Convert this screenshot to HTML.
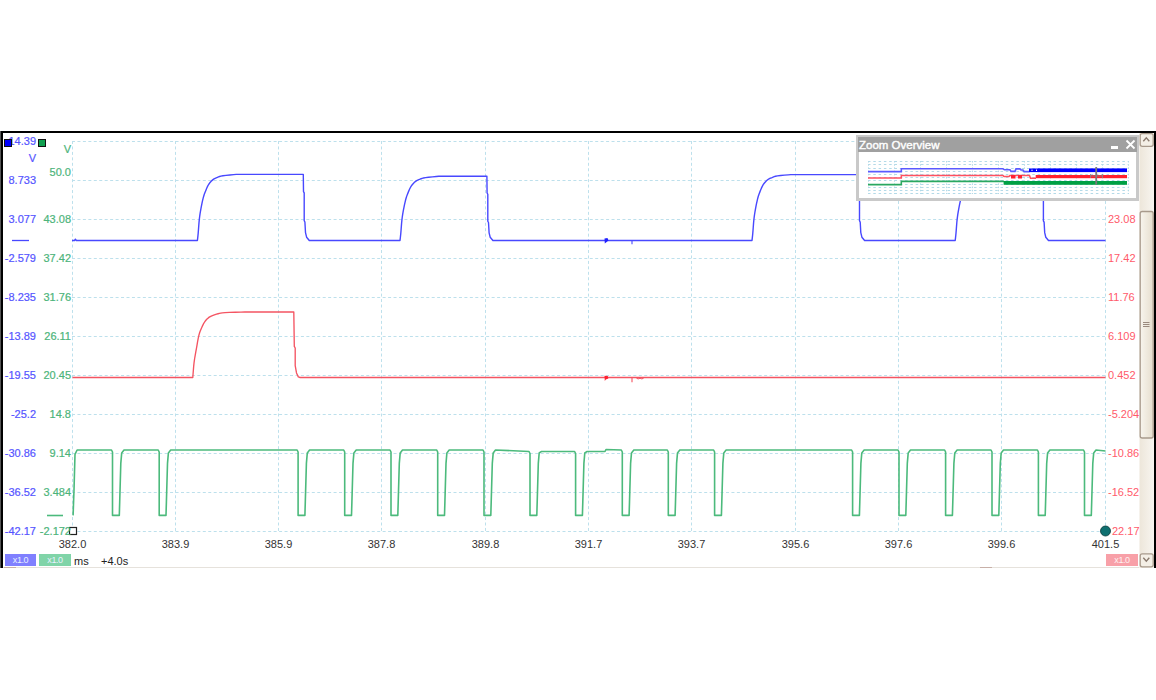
<!DOCTYPE html>
<html><head><meta charset="utf-8"><style>
html,body{margin:0;padding:0;background:#fff;}
body{width:1156px;height:700px;position:relative;overflow:hidden;font-family:"Liberation Sans",sans-serif;}
.a{position:absolute;}
svg{position:absolute;left:0;top:0;}
.lb{position:absolute;font-size:11px;line-height:14px;white-space:nowrap;-webkit-text-stroke:0.2px currentColor;}
.bl{right:1120px;color:#5555ff;}
.gl{right:1085px;color:#4cb47a;}
.rl{left:1108px;color:#ff5a6a;-webkit-text-stroke:0;}
.xl{position:absolute;top:537px;width:60px;text-align:center;font-size:11px;line-height:14px;color:#333;}
.badge{position:absolute;top:554px;height:12px;font-size:9px;line-height:12px;letter-spacing:-0.4px;color:#e8f0ff;text-align:center;}
</style></head><body>
<svg width="1156" height="700" viewBox="0 0 1156 700">
<g stroke="#bde0ec" stroke-width="1" stroke-dasharray="3 2.45" fill="none">
<line x1="72.5" y1="141" x2="72.5" y2="532" />
<line x1="175.5" y1="141" x2="175.5" y2="532" />
<line x1="278.5" y1="141" x2="278.5" y2="532" />
<line x1="381.5" y1="141" x2="381.5" y2="532" />
<line x1="485.5" y1="141" x2="485.5" y2="532" />
<line x1="588.5" y1="141" x2="588.5" y2="532" />
<line x1="691.5" y1="141" x2="691.5" y2="532" />
<line x1="795.5" y1="141" x2="795.5" y2="532" />
<line x1="898.5" y1="141" x2="898.5" y2="532" />
<line x1="1001.5" y1="141" x2="1001.5" y2="532" />
<line x1="1105.5" y1="141" x2="1105.5" y2="532" />
<line x1="72" y1="141.5" x2="1106" y2="141.5" />
<line x1="72" y1="180.5" x2="1106" y2="180.5" />
<line x1="72" y1="219.5" x2="1106" y2="219.5" />
<line x1="72" y1="258.5" x2="1106" y2="258.5" />
<line x1="72" y1="297.5" x2="1106" y2="297.5" />
<line x1="72" y1="336.5" x2="1106" y2="336.5" />
<line x1="72" y1="375.5" x2="1106" y2="375.5" />
<line x1="72" y1="414.5" x2="1106" y2="414.5" />
<line x1="72" y1="453.5" x2="1106" y2="453.5" />
<line x1="72" y1="492.5" x2="1106" y2="492.5" />
<line x1="72" y1="531.5" x2="1106" y2="531.5" />
</g>
<path d="M73.1 515.4 L74 490 L75 454.3 L77.1 450 L111.5 450 L112.5 452 L112.5 515.4 L119.3 515.4 L119.7 502 L120.8 463.4 L121.7 452.9 L124 450 L158.2 450 L159.2 452 L159.2 515.4 L166 515.4 L166.4 502 L167.5 463.4 L168.4 452.9 L170.7 450 L297.1 450 L298.1 452 L298.1 515.4 L304.9 515.4 L305.3 502 L306.4 463.4 L307.3 452.9 L309.6 450 L343.7 450 L344.7 452 L344.7 515.4 L351.5 515.4 L351.9 502 L353 463.4 L353.9 452.9 L356.2 450 L390 450 L391 452 L391 515.4 L397.8 515.4 L398.2 502 L399.3 463.4 L400.2 452.9 L402.5 450 L436.7 450 L437.7 452 L437.7 515.4 L444.5 515.4 L444.9 502 L446 463.4 L446.9 452.9 L449.2 450 L483 450 L484 452 L484 515.4 L490.8 515.4 L491.2 502 L492.3 463.4 L493.2 452.9 L495.5 450 L529 451.5 L530 453.5 L530 515.4 L536.8 515.4 L537.2 502 L538.3 463.4 L539.2 452.9 L541.5 451.5 L574.6 451.5 L575.6 453.5 L575.6 515.4 L582.4 515.4 L582.8 502 L583.9 463.4 L584.8 452.9 L587.1 451.5 L605 451.5 L606 449.5 L621.3 450 L622.3 452 L622.3 515.4 L629.1 515.4 L629.5 502 L630.6 463.4 L631.5 452.9 L633.8 450 L667.3 450 L668.3 452 L668.3 515.4 L675.1 515.4 L675.5 502 L676.6 463.4 L677.5 452.9 L679.8 450 L713.6 450 L714.6 452 L714.6 515.4 L721.4 515.4 L721.8 502 L722.9 463.4 L723.8 452.9 L726.1 450 L851.6 450 L852.6 452 L852.6 515.4 L859.4 515.4 L859.8 502 L860.9 463.4 L861.8 452.9 L864.1 450 L898 450 L899 452 L899 515.4 L905.8 515.4 L906.2 502 L907.3 463.4 L908.2 452.9 L910.5 450 L944.6 450 L945.6 452 L945.6 515.4 L952.4 515.4 L952.8 502 L953.9 463.4 L954.8 452.9 L957.1 450 L991 450 L992 452 L992 515.4 L998.8 515.4 L999.2 502 L1000.3 463.4 L1001.2 452.9 L1003.5 450 L1037.4 450 L1038.4 452 L1038.4 515.4 L1045.2 515.4 L1045.6 502 L1046.7 463.4 L1047.6 452.9 L1049.9 450 L1083.5 450 L1084.5 452 L1084.5 515.4 L1091.3 515.4 L1091.7 502 L1092.8 463.4 L1093.7 452.9 L1096 450 L1105.5 451" stroke="#4cba7c" stroke-width="1.6" fill="none" stroke-linejoin="round"/>
<path d="M72.5 377.5 L192.8 377.5 L193.01 374.73 L193.31 370.76 L193.67 366.35 L194.1 362.3 L194.6 358.75 L195.19 355.29 L195.8 351.92 L196.4 348.61 L196.98 345.27 L197.55 341.93 L198.12 338.81 L198.7 336.1 L199.25 333.99 L199.78 332.32 L200.35 330.82 L201 329.23 L201.76 327.44 L202.6 325.6 L203.49 323.84 L204.4 322.28 L205.34 320.96 L206.31 319.8 L207.3 318.78 L208.3 317.89 L209.27 317.16 L210.24 316.59 L211.26 316.09 L212.4 315.6 L213.68 315.1 L215.08 314.62 L216.55 314.17 L218.1 313.77 L219.44 313.41 L220.67 313.1 L222.34 312.83 L225 312.59 L229.51 312.39 L235.33 312.22 L240.94 312.09 L244.8 312 L293.8 312 L294.3 346.39 L295.2 348.02 L295.2 365.71 L296.5 372.92 L298.3 376.85 L300.1 377.5 L1105.5 377.5" stroke="#f45462" stroke-width="1.35" fill="none" stroke-linejoin="round"/>
<path d="M72 240.5 L74.5 240.5 L75.4 239.2 L76.3 240.5 L197.4 240.5 L197.54 239.32 L197.73 237.65 L197.96 235.56 L198.2 233.1 L198.44 230.06 L198.7 226.5 L198.98 222.83 L199.3 219.48 L199.65 216.59 L200.03 213.93 L200.45 211.36 L200.9 208.77 L201.41 206.05 L201.96 203.29 L202.54 200.66 L203.1 198.33 L203.62 196.42 L204.13 194.82 L204.67 193.32 L205.3 191.72 L206.02 189.9 L206.81 188.01 L207.67 186.17 L208.6 184.51 L209.62 183.07 L210.73 181.76 L211.87 180.6 L213 179.62 L214.07 178.86 L215.13 178.3 L216.22 177.83 L217.4 177.37 L218.51 176.91 L219.59 176.49 L220.95 176.1 L222.9 175.72 L225.99 175.34 L229.89 174.96 L233.63 174.63 L236.2 174.4 L303.3 174.4 L303.5 191.59 L304.2 192.91 L304.2 220.67 L304.9 221.99 L305.5 232.57 L306.6 237.19 L309.3 240.5 L400 240.5 L400.14 239.35 L400.33 237.73 L400.56 235.7 L400.8 233.31 L401.04 230.36 L401.3 226.9 L401.58 223.33 L401.9 220.08 L402.25 217.28 L402.63 214.69 L403.05 212.2 L403.5 209.68 L404.01 207.04 L404.56 204.36 L405.14 201.81 L405.7 199.54 L406.22 197.69 L406.73 196.13 L407.27 194.68 L407.9 193.12 L408.62 191.36 L409.41 189.52 L410.27 187.73 L411.2 186.12 L412.22 184.72 L413.33 183.45 L414.47 182.33 L415.6 181.37 L416.67 180.63 L417.73 180.08 L418.82 179.63 L420 179.19 L421.11 178.74 L422.19 178.33 L423.55 177.95 L425.5 177.58 L428.59 177.21 L432.49 176.84 L436.23 176.52 L438.8 176.3 L486.9 176.3 L487.1 192.99 L487.8 194.28 L487.8 221.24 L488.5 222.52 L489.1 232.8 L490.2 237.29 L492.9 240.5 L752 240.5 L752.14 239.32 L752.33 237.66 L752.56 235.57 L752.8 233.12 L753.04 230.09 L753.3 226.54 L753.58 222.88 L753.9 219.54 L754.25 216.66 L754.63 214.01 L755.05 211.45 L755.5 208.87 L756.01 206.16 L756.56 203.41 L757.14 200.78 L757.7 198.46 L758.22 196.55 L758.73 194.96 L759.27 193.47 L759.9 191.87 L760.62 190.06 L761.41 188.17 L762.27 186.33 L763.2 184.68 L764.22 183.24 L765.33 181.94 L766.47 180.79 L767.6 179.81 L768.67 179.05 L769.73 178.48 L770.82 178.02 L772 177.57 L773.11 177.1 L774.19 176.68 L775.55 176.29 L777.5 175.92 L780.59 175.53 L784.49 175.16 L788.23 174.83 L790.8 174.6 L858.6 174.6 L858.8 191.73 L859.5 193.05 L859.5 220.73 L860.2 222.05 L860.8 232.59 L861.9 237.2 L864.6 240.5 L955.2 240.5 L955.34 239.33 L955.53 237.68 L955.76 235.6 L956 233.16 L956.24 230.16 L956.5 226.62 L956.78 222.99 L957.1 219.67 L957.45 216.81 L957.83 214.17 L958.25 211.63 L958.7 209.06 L959.21 206.37 L959.76 203.63 L960.34 201.02 L960.9 198.71 L961.42 196.82 L961.93 195.24 L962.47 193.75 L963.1 192.16 L963.82 190.36 L964.61 188.48 L965.47 186.66 L966.4 185.02 L967.42 183.59 L968.53 182.29 L969.67 181.15 L970.8 180.17 L971.87 179.42 L972.93 178.86 L974.02 178.4 L975.2 177.95 L976.31 177.49 L977.39 177.07 L978.75 176.68 L980.7 176.31 L983.79 175.93 L987.69 175.55 L991.43 175.23 L994 175 L1042.5 175 L1042.7 192.03 L1043.4 193.34 L1043.4 220.85 L1044.1 222.16 L1044.7 232.64 L1045.8 237.22 L1048.5 240.5 L1105.5 240.5" stroke="#4848ff" stroke-width="1.4" fill="none" stroke-linejoin="round"/>
<!-- trace markers -->
<path d="M604.5 238.5 L607.5 238 L608.5 240.5 L606 242.5 L604.8 243.5 Z" fill="#2020ff"/>
<line x1="632" y1="240.5" x2="632" y2="244.3" stroke="#4747ff" stroke-width="1.1"/>
<path d="M604.5 375.8 L607.8 376 L608.3 378.6 L605.8 379.5 L604.8 381 Z" fill="#ff2030"/>
<line x1="632" y1="377.5" x2="632" y2="382.3" stroke="#f4505e" stroke-width="1.1"/>
<path d="M636 377.5 L638 379 L640 378.2 L642 379 L644 377.6" stroke="#f4505e" stroke-width="1" fill="none"/>
<!-- markers -->
<line x1="12" y1="240.5" x2="29" y2="240.5" stroke="#4848ff" stroke-width="1.3"/>
<line x1="47" y1="515.5" x2="63" y2="515.5" stroke="#4cba7c" stroke-width="1.6"/>
<rect x="69.5" y="527.5" width="7" height="7" fill="#fff" stroke="#222" stroke-width="1.2"/>
<circle cx="1105.5" cy="531" r="5" fill="#0f7070" stroke="#083838" stroke-width="0.8"/>

<!-- frame -->
<rect x="0" y="131" width="1" height="437" fill="#555"/>
<rect x="1" y="131" width="2" height="437" fill="#000"/>
<rect x="1" y="131" width="1155" height="2" fill="#000"/>
<rect x="1154" y="131" width="2" height="437" fill="#000"/>
<rect x="3" y="567" width="1136" height="1" fill="#e6e2dc"/><rect x="4" y="567" width="12" height="1" fill="#c8b0a8"/><rect x="980" y="567" width="12" height="1" fill="#c8b0a8"/>
</svg>
<div class="lb bl" style="top:173.45px">8.733</div>
<div class="lb bl" style="top:212.4px">3.077</div>
<div class="lb bl" style="top:251.35px">-2.579</div>
<div class="lb bl" style="top:290.3px">-8.235</div>
<div class="lb bl" style="top:329.25px">-13.89</div>
<div class="lb bl" style="top:368.2px">-19.55</div>
<div class="lb bl" style="top:407.15px">-25.2</div>
<div class="lb bl" style="top:446.1px">-30.86</div>
<div class="lb bl" style="top:485.05px">-36.52</div>
<div class="lb bl" style="top:524px">-42.17</div>
<div class="lb gl" style="top:164.95px">50.0</div>
<div class="lb gl" style="top:212.4px">43.08</div>
<div class="lb gl" style="top:251.35px">37.42</div>
<div class="lb gl" style="top:290.3px">31.76</div>
<div class="lb gl" style="top:329.25px">26.11</div>
<div class="lb gl" style="top:368.2px">20.45</div>
<div class="lb gl" style="top:407.15px">14.8</div>
<div class="lb gl" style="top:446.1px">9.14</div>
<div class="lb gl" style="top:485.05px">3.484</div>
<div class="lb gl" style="top:524px">-2.172</div>
<div class="lb rl" style="top:212.4px;">23.08</div>
<div class="lb rl" style="top:251.35px;">17.42</div>
<div class="lb rl" style="top:290.3px;">11.76</div>
<div class="lb rl" style="top:329.25px;">6.109</div>
<div class="lb rl" style="top:368.2px;">0.452</div>
<div class="lb rl" style="top:407.15px;">-5.204</div>
<div class="lb rl" style="top:446.1px;">-10.86</div>
<div class="lb rl" style="top:485.05px;">-16.52</div>
<div class="lb rl" style="top:524px;left:1112px">22.17</div>
<div class="xl" style="left:42.5px">382.0</div>
<div class="xl" style="left:145.5px">383.9</div>
<div class="xl" style="left:248.5px">385.9</div>
<div class="xl" style="left:351.5px">387.8</div>
<div class="xl" style="left:455.5px">389.8</div>
<div class="xl" style="left:558.5px">391.7</div>
<div class="xl" style="left:661.5px">393.7</div>
<div class="xl" style="left:765.5px">395.6</div>
<div class="xl" style="left:868.5px">397.6</div>
<div class="xl" style="left:971.5px">399.6</div>
<div class="xl" style="left:1075.5px">401.5</div>
<div class="lb bl" style="top:134px;right:1120px">14.39</div>
<div class="lb bl" style="top:151px;right:1120px">V</div>
<div class="lb gl" style="top:142px;right:1085px">V</div>
<div class="badge" style="left:5px;width:31px;background:#8080ff;">x1.0</div>
<div class="badge" style="left:39px;width:32px;background:#80d4a8;">x1.0</div>
<div class="a" style="left:74px;top:554px;font-size:11px;line-height:14px;color:#222;">ms</div>
<div class="a" style="left:101px;top:553.5px;font-size:11px;line-height:14px;color:#222;">+4.0s</div>
<div class="badge" style="left:1106px;width:32px;background:#f8a0a8;color:#fff0f0;">x1.0</div>
<div class="a" style="left:856px;top:135px;width:277px;height:61px;border:3px solid #c9c9c9;border-top-width:2px;border-bottom-width:3px;background:#fff;"></div>
<div class="a" style="left:858px;top:137px;width:279px;height:15px;background:#a0a0a0;"></div>
<div class="a" style="left:859px;top:137.5px;font-size:11.5px;line-height:15px;font-weight:normal;-webkit-text-stroke:0.4px #fff;color:#fff;">Zoom Overview</div>
<div class="a" style="left:1111px;top:146px;width:7px;height:3px;background:#fff;"></div>
<svg width="1156" height="700" viewBox="0 0 1156 700" style="position:absolute;left:0;top:0">
<path d="M1126.5 140.5 L1134.5 148.5 M1134.5 140.5 L1126.5 148.5" stroke="#fff" stroke-width="1.8"/>
<g stroke="#b4dae8" stroke-width="1" stroke-dasharray="2.5 2.8" fill="none">
<line x1="868" y1="161.50" x2="1128" y2="161.50"/>
<line x1="868" y1="164.50" x2="1128" y2="164.50"/>
<line x1="868" y1="168.50" x2="1128" y2="168.50"/>
<line x1="868" y1="171.50" x2="1128" y2="171.50"/>
<line x1="868" y1="174.50" x2="1128" y2="174.50"/>
<line x1="868" y1="177.50" x2="1128" y2="177.50"/>
<line x1="868" y1="180.50" x2="1128" y2="180.50"/>
<line x1="868" y1="184.50" x2="1128" y2="184.50"/>
<line x1="868" y1="187.50" x2="1128" y2="187.50"/>
<line x1="868" y1="190.50" x2="1128" y2="190.50"/>
<line x1="868" y1="193.50" x2="1128" y2="193.50"/>
</g>
<g stroke="#b4dae8" stroke-width="1" stroke-dasharray="1.5 1.7" fill="none">
<line x1="868.5" y1="161" x2="868.5" y2="194"/>
<line x1="894.5" y1="161" x2="894.5" y2="194"/>
<line x1="920.5" y1="161" x2="920.5" y2="194"/>
<line x1="946.5" y1="161" x2="946.5" y2="194"/>
<line x1="972.5" y1="161" x2="972.5" y2="194"/>
<line x1="998.5" y1="161" x2="998.5" y2="194"/>
<line x1="1024.5" y1="161" x2="1024.5" y2="194"/>
<line x1="1050.5" y1="161" x2="1050.5" y2="194"/>
<line x1="1076.5" y1="161" x2="1076.5" y2="194"/>
<line x1="1102.5" y1="161" x2="1102.5" y2="194"/>
<line x1="1128.5" y1="161" x2="1128.5" y2="194"/>
</g>
<path d="M868 171.6 H901.3 V168.8 H1003 L1004.5 169.8 H1010 L1011 171.4 H1015 L1016 168.9 H1020 L1021 170 H1023 L1024 171.6 H1029.5" stroke="#5a5aff" stroke-width="1.6" fill="none"/>
<rect x="1029" y="168.5" width="10" height="3.6" fill="#0000ff"/><rect x="1031.5" y="169.6" width="1" height="1.4" fill="#fff"/><rect x="1036" y="169.6" width="1" height="1.4" fill="#fff"/>
<rect x="1038.5" y="168.4" width="88.5" height="3.7" fill="#0000ff"/>
<path d="M868 178 H901.3 V175.4 H1003 L1004 176.6 H1009 L1010 175.4 H1029.5 L1030.5 178.3 H1036" stroke="#ff5060" stroke-width="1.5" fill="none"/>
<rect x="1011" y="175.1" width="4.5" height="3.4" fill="#ff2030"/><rect x="1018" y="175.1" width="4" height="3.4" fill="#ff2030"/>
<rect x="1035.7" y="175" width="91.3" height="3.2" fill="#ff2030"/>
<path d="M868 184.6 H901.3 V181.4 H1004" stroke="#2aa860" stroke-width="1.6" fill="none"/>
<rect x="1003.6" y="181" width="123.4" height="3.8" fill="#00a044"/>
<rect x="1095.3" y="167" width="1.8" height="17.7" fill="#7a7a7a"/>
<path d="M1090.5 174 V178 M1102.5 174 V178 M1090.5 176 H1102.5" stroke="#888" stroke-width="0.8" fill="none"/>
<defs><linearGradient id="trk" x1="0" x2="1" y1="0" y2="0"><stop offset="0" stop-color="#ede6da"/><stop offset="1" stop-color="#f8f5f0"/></linearGradient>
<linearGradient id="thb" x1="0" x2="1" y1="0" y2="0"><stop offset="0" stop-color="#f8f5ee"/><stop offset="1" stop-color="#e6dece"/></linearGradient></defs>
<rect x="1139.5" y="133" width="14.5" height="435" fill="url(#trk)"/>
<rect x="1140.2" y="133.7" width="13" height="12.6" rx="2" fill="#f4efe6" stroke="#a89a8c" stroke-width="1.3"/>
<path d="M1143.3 141.2 L1146.3 137.9 L1149.3 141.2" stroke="#8a7a6e" stroke-width="1.4" fill="none"/>
<rect x="1140.2" y="211.5" width="13" height="226.5" rx="2" fill="url(#thb)" stroke="#a89a8c" stroke-width="1.3"/>
<path d="M1143 322.5 H1149.5 M1143 324.5 H1149.5 M1143 326.5 H1149.5" stroke="#9a8a7e" stroke-width="1.1" fill="none"/>
<rect x="1140.2" y="553.8" width="13" height="13" rx="2" fill="#f4efe6" stroke="#a89a8c" stroke-width="1.3"/>
<path d="M1143.3 557.8 L1146.3 561.1 L1149.3 557.8" stroke="#8a7a6e" stroke-width="1.4" fill="none"/>
</svg>
<svg width="60" height="160" style="position:absolute;left:0;top:0"><rect x="4.5" y="139.5" width="7" height="7" fill="#0000ff" stroke="#111" stroke-width="1"/><rect x="38.5" y="139.5" width="7" height="7" fill="#10a050" stroke="#111" stroke-width="1"/></svg>
</body></html>
